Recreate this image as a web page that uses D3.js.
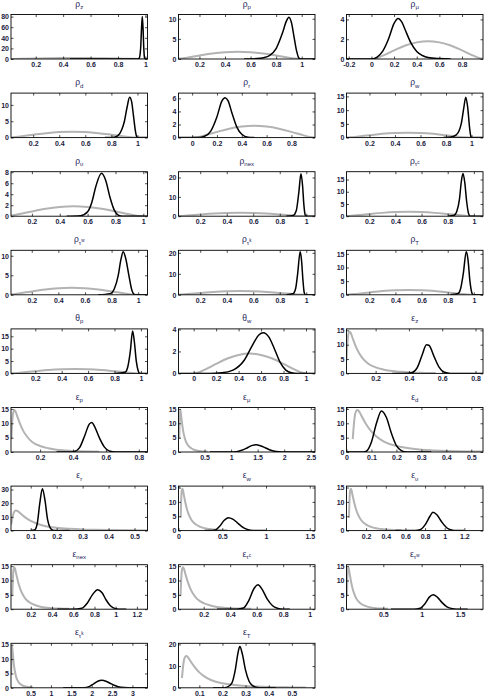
<!DOCTYPE html>
<html>
<head>
<meta charset="utf-8">
<script src="https://cdnjs.cloudflare.com/ajax/libs/d3/7.8.5/d3.min.js"></script>
<style>
  body { margin: 0; background: #fff; }
</style>
</head>
<body>
<div id="chart"></div>
<script>
// panel titles: [symbol, subscript, superscript]
const titles = [
  ["ρ","z"],["ρ","p"],["ρ","μ"],
  ["ρ","d"],["ρ","r"],["ρ","w"],
  ["ρ","υ"],["ρ","nex"],["ρ","τ","c"],
  ["ρ","τ","w"],["ρ","τ","k"],["ρ","T"],
  ["θ","p"],["θ","w"],["ε","z"],
  ["ε","p"],["ε","μ"],["ε","d"],
  ["ε","r"],["ε","w"],["ε","υ"],
  ["ε","nex"],["ε","τ","c"],["ε","τ","w"],
  ["ε","τ","k"],["ε","T"]
];

const xDomains = [
  [0.02,1.015],[0.036,1.104],[-0.22,0.985],
  [0.03,1.077],[-0.11,0.99],[0.02,1.09],
  [0.05,1.03],[0.036,1.066],[0.026,1.07],
  [0.044,1.07],[0.036,1.066],[0.026,1.07],
  [0.016,1.05],[-0.135,1.08],[0.025,0.845],
  [0.023,0.853],[0.01,2.58],[0,0.547],
  [0.024,0.55],[0,1.56],[0,1.39],
  [0.013,1.3],[0.01,1.04],[0.02,1.8],
  [0.02,3.37],[0.01,0.6]
];

const r01 = [0.2,0.4,0.6,0.8,1];
const xTicks = [
  r01, r01, [-0.2,0,0.2,0.4,0.6,0.8],
  r01, [0,0.2,0.4,0.6,0.8], r01,
  r01, r01, r01,
  r01, r01, r01,
  r01, [0,0.2,0.4,0.6,0.8,1], [0.2,0.4,0.6,0.8],
  [0.2,0.4,0.6,0.8], [0.5,1,1.5,2,2.5], [0,0.1,0.2,0.3,0.4,0.5],
  [0.1,0.2,0.3,0.4,0.5], [0,0.5,1,1.5], [0.2,0.4,0.6,0.8,1,1.2],
  [0.2,0.4,0.6,0.8,1,1.2], [0.2,0.4,0.6,0.8,1], [0.5,1,1.5],
  [0.5,1,1.5,2,2.5,3], [0.1,0.2,0.3,0.4,0.5]
];

const yMaxes = [
  84, 11.06, 4.5,
  13.6, 6.8, 16.2,
  8.1, 23, 18.2,
  11.4, 21.2, 16.3,
  18, 4.05, 15.5,
  15.5, 15.5, 15.5,
  32.5, 15.5, 15.5,
  15.5, 15.5, 15.5,
  15.5, 20.5
];

const y5 = [0,5,10], y15 = [0,5,10,15];
const yTicks = [
  [0,20,40,60,80], y5, [0,2,4],
  y5, [0,2,4,6], y15,
  [0,2,4,6,8], [0,10,20], y15,
  y5, [0,10,20], y15,
  y15, [0,2,4], y15,
  y15, y15, y15,
  [0,10,20,30], y15, y15,
  y15, y15, y15,
  y15, [0,10,20]
];

// prior densities (grey)
const rhoPrior = [[0,0],[0.05,0.1],[0.1,0.34],[0.2,0.87],[0.3,1.36],[0.4,1.68],[0.5,1.8],[0.6,1.68],[0.7,1.36],[0.8,0.87],[0.9,0.34],[0.95,0.1],[1,0]];
const epsPrior = [[0.025,4.5],[0.03,10],[0.035,13.3],[0.043,14.6],[0.05,14.2],[0.06,12.6],[0.08,9.5],[0.1,7.1],[0.12,5.4],[0.15,3.6],[0.2,2.1],[0.25,1.3],[0.3,0.8],[0.35,0.55],[0.4,0.35],[0.5,0.18],[0.56,0.12]];

// posterior densities (black)
const postRhoZ = [[0.45,0],[0.94,0],[0.955,2],[0.965,20],[0.971,55],[0.977,80],[0.983,55],[0.988,20],[0.993,3],[1.0,0],[1.015,0]];
const postRhoP = [[0.55,0],[0.65,0.1],[0.7,0.3],[0.75,0.9],[0.8,2.6],[0.85,6.5],[0.88,9.4],[0.9,10.4],[0.92,9],[0.94,5.5],[0.96,2],[0.975,0.4],[0.99,0],[1.104,0]];
const postRhoMu = [[-0.22,0],[0,0],[0.05,0.2],[0.1,0.8],[0.15,2.0],[0.2,3.6],[0.235,4.1],[0.27,3.7],[0.3,2.9],[0.35,1.6],[0.4,0.75],[0.45,0.35],[0.5,0.15],[0.6,0.04],[0.7,0]];
const postRhoD = [[0.75,0],[0.82,0.1],[0.85,0.6],[0.88,2.5],[0.9,5],[0.92,9.2],[0.94,12.3],[0.955,11],[0.97,6.5],[0.985,1.8],[0.995,0.2],[1.005,0],[1.077,0]];
const postRhoR = [[-0.11,0],[0.05,0],[0.1,0.2],[0.15,1.0],[0.2,3.2],[0.24,5.6],[0.265,6.1],[0.29,5.6],[0.32,3.8],[0.36,1.6],[0.4,0.5],[0.45,0.05],[0.5,0]];
const postRhoW = [[0.78,0],[0.84,0.2],[0.88,1],[0.9,2.2],[0.92,5.2],[0.94,11],[0.955,14.7],[0.97,11],[0.985,3.5],[0.995,0.4],[1.0,0],[1.09,0]];
const postRhoUps = [[0.45,0],[0.55,0.1],[0.6,0.8],[0.63,2.5],[0.66,5.5],[0.7,7.8],[0.73,6.5],[0.76,3.5],[0.79,1.2],[0.82,0.2],[0.85,0],[1.03,0]];
const postRhoNex = [[0.85,0],[0.9,0.4],[0.925,3],[0.945,13],[0.96,22],[0.972,16],[0.982,6],[0.992,0.6],[1.0,0],[1.066,0]];
const postRhoTc = [[0.8,0],[0.85,0.4],[0.87,2],[0.89,7],[0.905,14.5],[0.917,17.5],[0.93,14],[0.945,6],[0.96,1],[0.972,0],[1.07,0]];
const postRhoTw = [[0.7,0],[0.79,0.3],[0.82,1.5],[0.85,5],[0.87,9],[0.887,11],[0.905,9.5],[0.93,5],[0.95,1.5],[0.97,0.1],[0.98,0],[1.07,0]];
const postRhoTk = [[0.85,0],[0.9,0.5],[0.92,3],[0.935,10],[0.954,20.5],[0.965,16],[0.975,7],[0.985,1],[0.995,0],[1.066,0]];
const postRhoT = [[0.82,0],[0.88,0.5],[0.9,2.5],[0.92,8],[0.942,15.8],[0.955,13],[0.97,5],[0.985,0.7],[0.995,0],[1.07,0]];
const postThetaP = [[0.8,0],[0.88,0.5],[0.9,2.5],[0.92,9],[0.937,17.2],[0.95,13],[0.965,5],[0.98,1],[0.99,0],[1.05,0]];
const postThetaW = [[-0.135,0],[0.15,0],[0.25,0.05],[0.35,0.3],[0.45,1.2],[0.52,2.5],[0.58,3.5],[0.62,3.7],[0.67,3.3],[0.72,2.2],[0.77,1.0],[0.82,0.3],[0.87,0.05],[0.92,0],[1.08,0]];
const postEpsZ = [[0.3,0],[0.38,0],[0.42,0.3],[0.45,2],[0.48,6.5],[0.505,10],[0.52,9.8],[0.55,6],[0.58,2.3],[0.61,0.5],[0.65,0],[0.845,0]];
const postEpsP = [[0.3,0],[0.38,0],[0.41,0.2],[0.44,1.5],[0.47,5.5],[0.5,9.8],[0.515,10.3],[0.53,9],[0.56,5],[0.59,1.8],[0.62,0.4],[0.66,0],[0.853,0]];
const postEpsMu = [[0.6,0],[1.0,0],[1.1,0.1],[1.2,0.6],[1.3,1.4],[1.4,2.3],[1.47,2.5],[1.55,2.2],[1.65,1.4],[1.75,0.6],[1.85,0.15],[1.95,0],[2.58,0]];
const postEpsD = [[0.0,0],[0.07,0],[0.08,0.3],[0.1,3.5],[0.12,10],[0.14,14.3],[0.16,12],[0.18,6.5],[0.2,2.2],[0.22,0.5],[0.24,0],[0.34,0]];
const postEpsR = [[0.1,0],[0.115,0.5],[0.125,5],[0.135,20],[0.145,30.5],[0.155,22],[0.165,8],[0.175,2],[0.185,0.3],[0.2,0],[0.25,0]];
const postEpsW = [[0.3,0],[0.35,0],[0.42,0.2],[0.47,1.5],[0.52,3.5],[0.57,4.5],[0.62,4],[0.67,2.8],[0.72,1.5],[0.77,0.6],[0.82,0.15],[0.9,0],[1.0,0]];
const postEpsUps = [[0.5,0],[0.7,0],[0.75,0.3],[0.8,2],[0.85,5],[0.88,6.4],[0.92,5.5],[0.97,3],[1.02,1],[1.07,0.2],[1.12,0],[1.2,0]];
const postEpsNex = [[0.45,0],[0.6,0],[0.68,0.3],[0.73,2],[0.78,5],[0.83,6.8],[0.87,5.8],[0.91,3.2],[0.95,1.2],[1.0,0.2],[1.05,0],[1.1,0]];
const postEpsTc = [[0.3,0],[0.45,0],[0.5,0.4],[0.54,3],[0.58,7.2],[0.61,8.5],[0.64,7],[0.68,3.5],[0.72,1.2],[0.76,0.3],[0.8,0],[0.85,0]];
const postEpsTw = [[0.6,0],[0.9,0],[0.98,0.3],[1.04,1.8],[1.1,4.2],[1.15,5],[1.2,4.3],[1.27,2.2],[1.33,0.8],[1.4,0.2],[1.5,0],[1.6,0]];
const postEpsTk = [[1.3,0],[1.8,0.05],[1.95,0.5],[2.05,1.4],[2.15,2.3],[2.25,2.6],[2.35,2.3],[2.45,1.6],[2.55,0.9],[2.65,0.4],[2.8,0.1],[3.0,0],[3.37,0]];
const postEpsT = [[0.16,0],[0.2,0],[0.22,0.3],[0.24,2],[0.255,8],[0.267,16],[0.275,19],[0.285,16],[0.3,8],[0.315,3],[0.33,1],[0.35,0.2],[0.37,0],[0.43,0]];

const posteriors = [
  postRhoZ, postRhoP, postRhoMu,
  postRhoD, postRhoR, postRhoW,
  postRhoUps, postRhoNex, postRhoTc,
  postRhoTw, postRhoTk, postRhoT,
  postThetaP, postThetaW, postEpsZ,
  postEpsP, postEpsMu, postEpsD,
  postEpsR, postEpsW, postEpsUps,
  postEpsNex, postEpsTc, postEpsTw,
  postEpsTk, postEpsT
];
const priors = titles.map(t => t[0] === "ε" ? epsPrior : rhoPrior);

// layout
const W = 486, H = 698;
const colX = [11, 178.5, 346.5], boxW = 136.5;
const firstBottom = 59, rowStep = 78.6, boxH = 44.5;
const labelFont = "'Liberation Sans Narrow', 'Liberation Sans', Arial, sans-serif";

const svg = d3.select("#chart").append("svg")
  .attr("width", W).attr("height", H)
  .style("background", "#fff");

titles.forEach((t, i) => {
  const col = i % 3, row = Math.floor(i / 3);
  const x0 = colX[col], bottom = firstBottom + row * rowStep, top = bottom - boxH;

  const x = d3.scaleLinear().domain(xDomains[i]).range([x0, x0 + boxW]);
  const y = d3.scaleLinear().domain([0, yMaxes[i]]).range([bottom, top]);

  const g = svg.append("g");

  g.append("clipPath").attr("id", "clip" + i)
    .append("rect").attr("x", x0).attr("y", top - 1).attr("width", boxW).attr("height", boxH + 1);

  const line = d3.line()
    .x(d => x(d[0])).y(d => y(d[1]))
    .curve(d3.curveMonotoneX);

  const plot = g.append("g").attr("clip-path", "url(#clip" + i + ")");
  plot.append("path").datum(priors[i])
    .attr("d", line).attr("fill", "none")
    .attr("stroke", "#b3b3b3").attr("stroke-width", 2);
  plot.append("path").datum(posteriors[i])
    .attr("d", line).attr("fill", "none")
    .attr("stroke", "#000").attr("stroke-width", 1.5);

  // axes, ticks inside (matlab style)
  const fmt = d => String(d);
  const bx = g.append("g").attr("transform", `translate(0,${bottom})`)
    .call(d3.axisBottom(x).tickValues(xTicks[i]).tickSize(-2.5).tickPadding(3).tickFormat(fmt));
  const tx = g.append("g").attr("transform", `translate(0,${top})`)
    .call(d3.axisTop(x).tickValues(xTicks[i]).tickSize(-2.5).tickFormat(""));
  const ly = g.append("g").attr("transform", `translate(${x0},0)`)
    .call(d3.axisLeft(y).tickValues(yTicks[i]).tickSize(-2.5).tickPadding(2).tickFormat(fmt));
  const ry = g.append("g").attr("transform", `translate(${x0 + boxW},0)`)
    .call(d3.axisRight(y).tickValues(yTicks[i]).tickSize(-2.5).tickFormat(""));

  [bx, tx, ly, ry].forEach(a => {
    a.select(".domain").remove();
    a.selectAll(".tick line").attr("stroke", "#000").attr("stroke-width", 0.7);
    a.attr("font-family", labelFont).attr("font-size", 7).attr("font-weight", "bold");
    a.selectAll("text").attr("fill", "#1a1a40");
  });

  g.append("rect")
    .attr("x", x0).attr("y", top).attr("width", boxW).attr("height", boxH)
    .attr("fill", "none").attr("stroke", "#000").attr("stroke-width", 0.9);

  // title
  const tt = g.append("text")
    .attr("x", x0 + boxW / 2).attr("y", top - 8)
    .attr("text-anchor", "middle")
    .attr("font-family", "'Liberation Sans', Arial, sans-serif")
    .attr("font-size", 8.5).attr("fill", "#1c1c5a");
  tt.append("tspan").text(t[0]);
  tt.append("tspan").attr("dy", 2.5).attr("font-size", 6).text(t[1]);
  if (t[2]) tt.append("tspan").attr("dy", -2.5).attr("font-size", 4.5).text(t[2]);
});
</script>
</body>
</html>
